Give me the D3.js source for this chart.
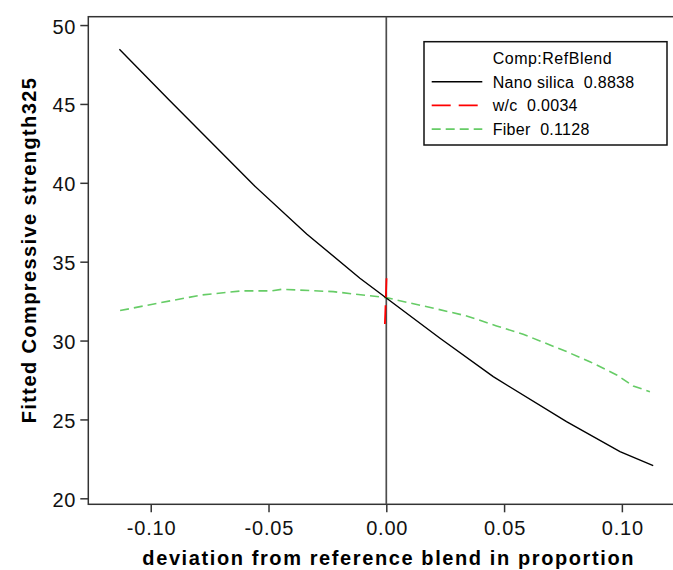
<!DOCTYPE html>
<html>
<head>
<meta charset="utf-8">
<script src="https://cdn.jsdelivr.net/npm/d3@7"></script>
<style>
	body { margin: 0; background: #fff; }
	svg { display: block; font-family: "Liberation Sans", Arial, sans-serif; }
</style>
</head>
<body>
<svg width="673" height="570"></svg>
<script>
// values
var nanoX = [-0.1133, -0.0925, -0.0564, -0.0338, -0.0112, 0, 0.0228, 0.0454, 0.0765, 0.0992, 0.1133];
var nanoY = [48.47, 45.30, 39.87, 36.76, 33.95, 32.70, 30.15, 27.71, 24.86, 22.96, 22.07];

var wcX = [0.0001, -0.0006];
var wcY = [33.95, 31.05];

var fiberX = [-0.1130, -0.0960, -0.0783, -0.0614, -0.0486, -0.0444, -0.0225, 0, 0.0221, 0.0341, 0.0468, 0.0581, 0.0765, 0.0864, 0.0978, 0.1048, 0.1119];
var fiberY = [31.90, 32.40, 32.89, 33.15, 33.15, 33.25, 33.10, 32.72, 31.98, 31.56, 30.93, 30.40, 29.30, 28.66, 27.82, 27.12, 26.76];

var xTicks = [-0.10, -0.05, 0.00, 0.05, 0.10];
var yTicks = [20, 25, 30, 35, 40, 45, 50];

var legendTitle = "Comp:RefBlend";
var seriesNames = ["Nano silica", "w/c", "Fiber"];
var seriesComp = ["0.8838", "0.0034", "0.1128"];

var svg = d3.select("svg");

var x = d3.scaleLinear().domain([-0.1265, 0.1265]).range([88.3, 684.3]);
var y = d3.scaleLinear().domain([19.62, 50.53]).range([504.3, 16.7]);

// frame (right side falls outside the picture)
svg.append("rect")
	.attr("x", x.range()[0]).attr("y", y.range()[1])
	.attr("width", x.range()[1] - x.range()[0])
	.attr("height", y.range()[0] - y.range()[1])
	.attr("fill", "none").attr("stroke", "#333").attr("stroke-width", 1.5);

var fmtX = function(d) { return d3.format(".2f")(d).replace("\u2212", "-"); };

var xAxis = svg.append("g")
	.attr("transform", "translate(0," + y.range()[0] + ")")
	.call(d3.axisBottom(x).tickValues(xTicks).tickFormat(fmtX).tickSize(8).tickPadding(9).tickSizeOuter(0));
var yAxis = svg.append("g")
	.attr("transform", "translate(" + x.range()[0] + ",0)")
	.call(d3.axisLeft(y).tickValues(yTicks).tickFormat(d3.format("d")).tickSize(8).tickPadding(4).tickSizeOuter(0));

svg.selectAll(".domain").remove();
svg.selectAll(".tick line").attr("stroke", "#333").attr("stroke-width", 1.5);
svg.selectAll(".tick text")
	.attr("font-family", "Liberation Sans, Arial, sans-serif")
	.attr("font-size", 20)
	.attr("letter-spacing", 0.8)
	.attr("fill", "#111");
yAxis.selectAll(".tick text").attr("dy", "0.4em");
xAxis.selectAll(".tick text").attr("dx", "0.4");

// reference blend line
svg.append("line")
	.attr("x1", x(0)).attr("x2", x(0))
	.attr("y1", y.range()[1]).attr("y2", y.range()[0])
	.attr("stroke", "#4d4d4d").attr("stroke-width", 1.7);

function pts(xs, ys) { return xs.map(function(d, i) { return [d, ys[i]]; }); }

var line = d3.line()
	.x(function(d) { return x(d[0]); })
	.y(function(d) { return y(d[1]); });

svg.append("path").datum(pts(fiberX, fiberY))
	.attr("d", line).attr("fill", "none")
	.attr("stroke", "#66cc66").attr("stroke-width", 1.6).attr("stroke-dasharray", "9,5");

svg.append("path").datum(pts(nanoX, nanoY))
	.attr("d", line).attr("fill", "none")
	.attr("stroke", "#000").attr("stroke-width", 1.4);

svg.append("path").datum(pts(wcX, wcY))
	.attr("d", line).attr("fill", "none")
	.attr("stroke", "#ff0000").attr("stroke-width", 1.8).attr("stroke-dasharray", "19,8");

// axis titles
svg.append("text")
	.attr("x", 388.7).attr("y", 565)
	.attr("text-anchor", "middle")
	.attr("font-size", 20).attr("font-weight", "bold").attr("letter-spacing", 1.6)
	.text("deviation from reference blend in proportion");

svg.append("text")
	.attr("transform", "translate(36,250) rotate(-90)")
	.attr("text-anchor", "middle")
	.attr("font-size", 20).attr("font-weight", "bold").attr("letter-spacing", 1.4)
	.text("Fitted Compressive strength325");

// legend
var legend = svg.append("g");
legend.append("rect")
	.attr("x", 424).attr("y", 41.7).attr("width", 243).attr("height", 103.3)
	.attr("fill", "#fff").attr("stroke", "#111").attr("stroke-width", 1.5);
legend.append("text")
	.attr("x", 492.7).attr("y", 63.5)
	.attr("font-size", 16).attr("letter-spacing", 0.5)
	.text(legendTitle);

var styles = [
	{ color: "#000", dash: null, width: 1.4 },
	{ color: "#ff0000", dash: "19,8", width: 1.8 },
	{ color: "#66cc66", dash: "9,5", width: 1.6 }
];

var row = legend.selectAll(".row")
	.data(seriesNames)
	.enter().append("g")
		.attr("class", "row")
		.attr("transform", function(d, i) { return "translate(0," + (81.7 + i * 23.7) + ")"; });

row.append("line")
	.attr("x1", 431.7).attr("x2", 482.3)
	.attr("stroke", function(d, i) { return styles[i].color; })
	.attr("stroke-width", function(d, i) { return styles[i].width; })
	.attr("stroke-dasharray", function(d, i) { return styles[i].dash; });

row.append("text")
	.attr("x", 492.7).attr("y", 5.8)
	.attr("font-size", 16).attr("letter-spacing", 0.3)
	.attr("xml:space", "preserve")
	.style("white-space", "pre")
	.text(function(d, i) { return d + "  " + seriesComp[i]; });
</script>
</body>
</html>
